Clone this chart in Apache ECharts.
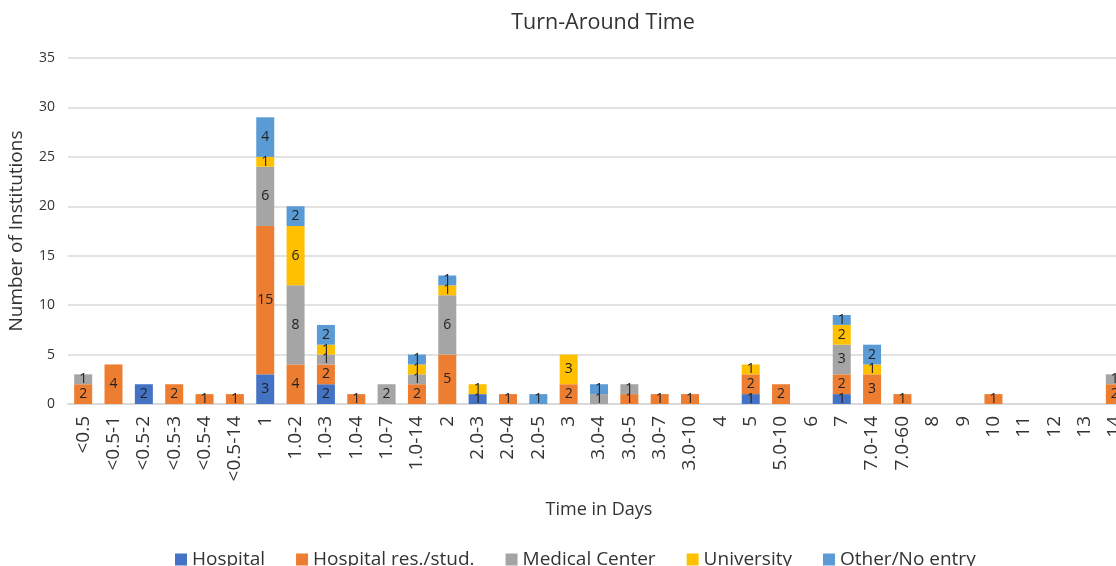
<!DOCTYPE html>
<html>
<head>
<meta charset="utf-8">
<script src="https://cdn.jsdelivr.net/npm/echarts@6/dist/echarts.min.js"></script>
<style>html,body{margin:0;padding:0;background:#fff;}#chart{width:1116px;height:566px;}</style>
</head>
<body>
<div id="chart"></div>
<script>
const categories = ['<0.5','<0.5-1','<0.5-2','<0.5-3','<0.5-4','<0.5-14','1','1.0-2','1.0-3','1.0-4','1.0-7','1.0-14','2','2.0-3','2.0-4','2.0-5','3','3.0-4','3.0-5','3.0-7','3.0-10','4','5','5.0-10','6','7','7.0-14','7.0-60','8','9','10','11','12','13','14'];
const hospital       = [0,0,2,0,0,0,3,0,2,0,0,0,0,1,0,0,0,0,0,0,0,0,1,0,0,1,0,0,0,0,0,0,0,0,0];
const hospitalRes    = [2,4,0,2,1,1,15,4,2,1,0,2,5,0,1,0,2,0,1,1,1,0,2,2,0,2,3,1,0,0,1,0,0,0,2];
const medicalCenter  = [1,0,0,0,0,0,6,8,1,0,2,1,6,0,0,0,0,1,1,0,0,0,0,0,0,3,0,0,0,0,0,0,0,0,1];
const university     = [0,0,0,0,0,0,1,6,1,0,0,1,1,1,0,0,3,0,0,0,0,0,1,0,0,2,1,0,0,0,0,0,0,0,0];
const otherNoEntry   = [0,0,0,0,0,0,4,2,2,0,0,1,1,0,0,1,0,1,0,0,0,0,0,0,0,1,2,0,0,0,0,0,0,0,0];
const seriesNames = ['Hospital','Hospital res./stud.','Medical Center','University','Other/No entry'];
const seriesColors = ['#4472C4','#ED7D31','#A5A5A5','#FFC000','#5B9BD5'];
const seriesData = [hospital, hospitalRes, medicalCenter, university, otherNoEntry];
const FONT = 'Open Sans';

const chart = echarts.init(document.getElementById('chart'));
chart.setOption({
  animation: false,
  textStyle: {fontFamily: FONT},
  title: {
    text: 'Turn-Around Time',
    left: 598, top: 7,
    textAlign: 'center',
    textStyle: {fontFamily: FONT, fontSize: 21.5, fontWeight: 'normal', color: '#333'}
  },
  legend: {
    left: 170, top: 545,
    itemWidth: 12, itemHeight: 12, itemGap: 31,
    icon: 'rect',
    textStyle: {fontFamily: FONT, fontSize: 19, color: '#333'},
    data: seriesNames
  },
  grid: {left: 68, width: 1062, top: 58, bottom: 162, containLabel: false, outerBoundsMode: 'none'},
  xAxis: {
    type: 'category',
    data: categories,
    name: 'Time in Days',
    nameLocation: 'middle',
    nameGap: 97,
    nameTextStyle: {fontFamily: FONT, fontSize: 18, color: '#333'},
    axisLine: {lineStyle: {color: '#d9d9d9', width: 2}},
    axisTick: {show: false},
    axisLabel: {interval: 0, rotate: 90, fontSize: 19, color: '#333', fontFamily: FONT, margin: 12}
  },
  yAxis: {
    type: 'value',
    min: 0, max: 35, interval: 5,
    name: 'Number of Institutions',
    nameLocation: 'middle',
    nameGap: 42,
    nameTextStyle: {fontFamily: FONT, fontSize: 19, color: '#333'},
    axisLine: {show: false},
    axisTick: {show: false},
    axisLabel: {fontSize: 14, color: '#333', fontFamily: FONT, margin: 13},
    splitLine: {lineStyle: {color: '#d9d9d9', width: 1.5}}
  },
  series: seriesNames.map((n, i) => ({
    name: n,
    type: 'bar',
    stack: 'total',
    barWidth: 18,
    itemStyle: {color: seriesColors[i]},
    label: {
      show: true,
      position: 'inside',
      fontFamily: FONT,
      fontSize: 14,
      color: '#222',
      formatter: p => (p.value > 0 ? String(p.value) : '')
    },
    data: seriesData[i].map(v => (v > 0 ? v : null))
  }))
});
</script>
</body>
</html>
